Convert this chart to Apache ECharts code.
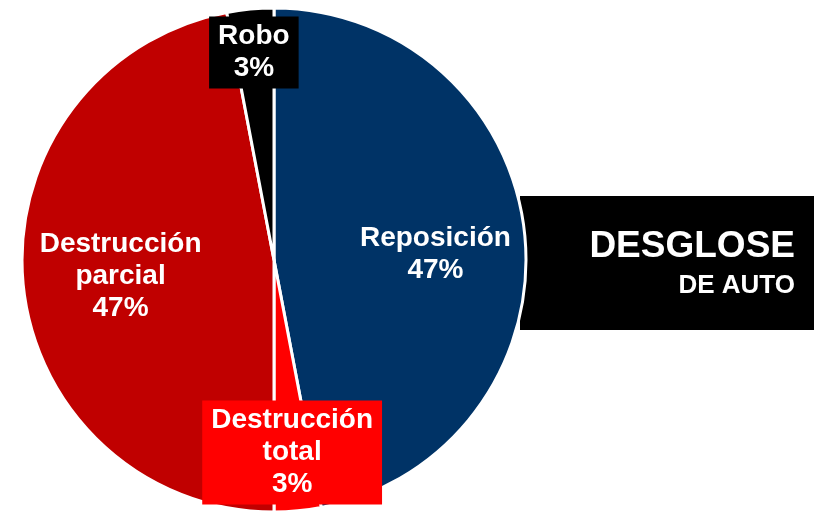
<!DOCTYPE html>
<html>
<head>
<meta charset="utf-8">
<script src="https://cdn.jsdelivr.net/npm/echarts@6/dist/echarts.min.js"></script>
<style>
html,body{margin:0;padding:0;background:#fff;}
#chart{width:814px;height:515px;}
</style>
</head>
<body>
<div id="chart"></div>
<script>
var categories = ['Reposición', 'Destrucción total', 'Destrucción parcial', 'Robo'];
var values = [47, 3, 47, 3];
var colors = ['#003366', '#FF0000', '#C00000', '#000000'];
var titleMain = 'DESGLOSE';
var titleSub = 'DE AUTO';

var labelBoxes = [null, '#FF0000', null, '#000000'];
var labelShift = [[33, 6], [6, 64], [-25, 4], [-8, -79]];

var chart = echarts.init(document.getElementById('chart'));
var data = categories.map(function (c, i) {
  var lbl = {};
  if (labelBoxes[i]) {
    lbl = { backgroundColor: labelBoxes[i], padding: [5, 9, 3, 9] };
  }
  return { name: c, value: values[i], itemStyle: { color: colors[i] }, label: lbl };
});

chart.setOption({
  animation: false,
  graphic: [
    { type: 'rect', z: 0, shape: { x: 520, y: 196, width: 294, height: 134 }, style: { fill: '#000' } },
    { type: 'text', z: 20, x: 795, y: 247, style: { text: titleMain, fill: '#fff', font: 'bold 37px "Liberation Sans", Arial, sans-serif', textAlign: 'right', textVerticalAlign: 'middle' } },
    { type: 'text', z: 20, x: 795, y: 286, style: { text: titleSub, fill: '#fff', font: 'bold 26px "Liberation Sans", Arial, sans-serif', textAlign: 'right', textVerticalAlign: 'middle' } }
  ],
  series: [{
    type: 'pie',
    z: 10,
    center: [274, 260],
    radius: 252,
    startAngle: 90,
    clockwise: true,
    data: data,
    itemStyle: { borderColor: '#fff', borderWidth: 3 },
    label: {
      show: true,
      position: 'inside',
      color: '#fff',
      fontFamily: '"Liberation Sans", Arial, sans-serif',
      fontWeight: 'bold',
      fontSize: 28,
      lineHeight: 32,
      align: 'center',
      formatter: function (p) { return p.name.replace(' ', '\n') + '\n' + p.value + '%'; }
    },
    labelLine: { show: false },
    labelLayout: function (p) {
      var s = labelShift[p.dataIndex];
      return { dx: s[0], dy: s[1] };
    }
  }]
});
</script>
</body>
</html>
